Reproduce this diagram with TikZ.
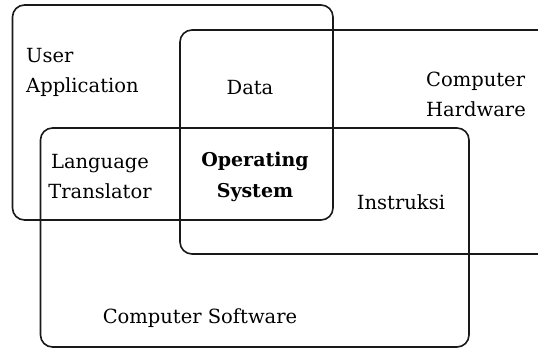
\documentclass[tikz,border=0pt]{standalone}
\usepackage{fontspec}
\setmainfont{DejaVu Serif}
\begin{document}
\begin{tikzpicture}[x=1pt,y=-1pt,
  box/.style={draw=black!90, line width=1.6pt, rounded corners=12pt},
  lbl/.style={font=\fontsize{19.5}{30}\selectfont, align=center, inner sep=0pt},
  blbl/.style={font=\fontsize{19}{31}\selectfont\bfseries, align=center, inner sep=0pt}]
\useasboundingbox (0,0) rectangle (538,350);
% boxes
\draw[box] (12.5,5) rectangle (333,220);
\draw[box] (538,30) -- (180,30) -- (180,254) -- (538,254);
\draw[box] (40.5,128) rectangle (469,347);
% labels
\node[lbl, align=left, anchor=west] (ua) at (26,72) {User\\Application};
\node[lbl] (data) at (250,88) {Data};
\node[lbl, align=left] (hw) at (476,94) {Computer\\Hardware};
\node[lbl] (lt) at (100,177) {Language\\Translator};
\node[blbl] (os) at (255,177) {Operating\\System};
\node[lbl] (ins) at (401,202) {Instruksi};
\node[lbl] (sw) at (200,318) {Computer Software};
\end{tikzpicture}
\end{document}
